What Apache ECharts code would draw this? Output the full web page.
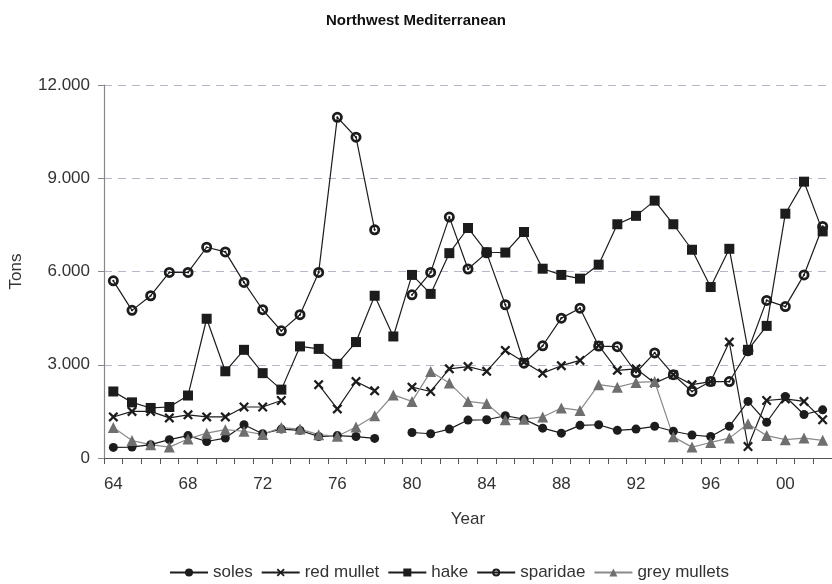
<!DOCTYPE html>
<html>
<head>
<meta charset="utf-8">
<script src="https://cdn.jsdelivr.net/npm/echarts@6/dist/echarts.min.js"></script>
<style>
  html, body { margin: 0; padding: 0; background: #fff; }
  #chart { width: 832px; height: 584px; }
</style>
</head>
<body>
<div id="chart"></div>
<script>
// years 1964 - 2002, two-digit labels
const years = ['64','65','66','67','68','69','70','71','72','73','74','75','76','77','78','79','80','81','82','83',
  '84','85','86','87','88','89','90','91','92','93','94','95','96','97','98','99','00','01','02'];

// catches in tons
const soles = [340,350,430,590,720,530,640,1070,780,930,890,690,720,690,630,null,820,780,930,1220,
  1230,1360,1250,960,800,1050,1070,890,930,1020,860,740,690,1020,1820,1150,1980,1400,1550];
const redMullet = [1320,1500,1500,1290,1390,1320,1320,1640,1640,1850,null,2360,1580,2460,2160,null,2280,2140,2870,2940,
  2790,3460,3090,2730,2970,3140,3620,2820,2870,2410,2680,2360,2460,3730,370,1850,1900,1820,1230];
const hake = [2140,1790,1610,1640,2010,4480,2790,3480,2730,2200,3590,3510,3030,3730,5220,3910,5890,5280,6590,7400,
  6620,6610,7270,6090,5890,5770,6220,7520,7790,8280,7520,6700,5500,6730,3480,4250,7860,8890,7290];
const sparidae = [5700,4750,5220,5970,5970,6780,6630,5650,4770,4090,4610,5970,10960,10320,7340,null,5250,5970,7750,6080,
  6600,4930,3050,3610,4500,4820,3600,3580,2750,3380,2680,2140,2460,2460,3450,5070,4870,5890,7450];
const greyMullets = [980,560,430,350,610,800,910,860,760,980,930,750,700,1000,1360,2030,1820,2780,2410,1820,
  1750,1230,1250,1320,1610,1530,2360,2280,2430,2460,680,350,500,640,1100,720,590,640,570];

const yTicks = [0, 3000, 6000, 9000, 12000];

const font = '"Liberation Sans", Arial, sans-serif';
const ink = '#1c1c1c';

// marker shapes
const crossPath = 'path://M0,1.6 L1.6,0 L5,3.4 L8.4,0 L10,1.6 L6.6,5 L10,8.4 L8.4,10 L5,6.6 L1.6,10 L0,8.4 L3.4,5 Z';
const ringPath = 'path://M0,10 A10,10 0 1,1 20,10 A10,10 0 1,1 0,10 Z M5,10 A5,5 0 1,0 15,10 A5,5 0 1,0 5,10 Z M8,10 A2,2 0 1,1 12,10 A2,2 0 1,1 8,10 Z';

function makeSeries(name, data, symbol, size, color, lineColor) {
  return {
    name: name,
    type: 'line',
    data: data,
    symbol: symbol,
    symbolSize: size,
    showAllSymbol: true,
    connectNulls: false,
    itemStyle: { color: color },
    lineStyle: { color: lineColor, width: 1.2 },
    emphasis: { disabled: true }
  };
}

const myChart = echarts.init(document.getElementById('chart'), null, { renderer: 'canvas' });
myChart.setOption({
  animation: false,
  backgroundColor: '#fff',
  title: {
    text: 'Northwest Mediterranean',
    left: 'center',
    top: 8,
    textStyle: { fontFamily: font, fontSize: 15, fontWeight: 'bold', color: '#111' }
  },
  legend: {
    left: 164,
    top: 559,
    itemWidth: 38,
    itemHeight: 10,
    itemGap: 8,
    textStyle: { fontFamily: font, fontSize: 17, color: '#333' },
    data: ['soles', 'red mullet', 'hake', 'sparidae', 'grey mullets']
  },
  grid: { left: 102, right: 0, top: 85, bottom: 126 },
  xAxis: {
    type: 'category',
    data: years,
    boundaryGap: true,
    name: 'Year',
    nameLocation: 'middle',
    nameGap: 53,
    nameTextStyle: { fontFamily: font, fontSize: 17, color: '#333' },
    axisLine: { lineStyle: { color: '#555', width: 1.2 } },
    axisTick: { show: true, interval: 0, length: 6, lineStyle: { color: '#555' } },
    axisLabel: {
      interval: 3,
      margin: 18,
      fontFamily: font,
      fontSize: 17,
      color: '#333'
    },
    splitLine: { show: false }
  },
  yAxis: {
    type: 'value',
    min: yTicks[0],
    max: yTicks[yTicks.length - 1],
    interval: 3000,
    name: 'Tons',
    nameLocation: 'middle',
    nameGap: 79,
    nameRotate: 90,
    nameTextStyle: { fontFamily: font, fontSize: 17, color: '#333' },
    axisLine: { show: true, lineStyle: { color: '#888', width: 1.2 } },
    axisTick: { show: true, length: 6, lineStyle: { color: '#888' } },
    axisLabel: {
      margin: 14,
      fontFamily: font,
      fontSize: 17,
      color: '#333',
      formatter: function (v) {
        return v === 0 ? '0' : String(v).replace(/\B(?=(\d{3})+(?!\d))/g, '.');
      }
    },
    splitLine: { show: true, lineStyle: { color: '#b4b8c6', type: [8, 6], width: 1.2 } }
  },
  series: [
    makeSeries('soles', soles, 'circle', 9, ink, ink),
    makeSeries('red mullet', redMullet, crossPath, 10, ink, ink),
    makeSeries('hake', hake, 'rect', 10, ink, ink),
    makeSeries('sparidae', sparidae, ringPath, 11, ink, ink),
    makeSeries('grey mullets', greyMullets, 'triangle', 11, '#6f6f6f', '#8a8a8a')
  ]
});
</script>
</body>
</html>
